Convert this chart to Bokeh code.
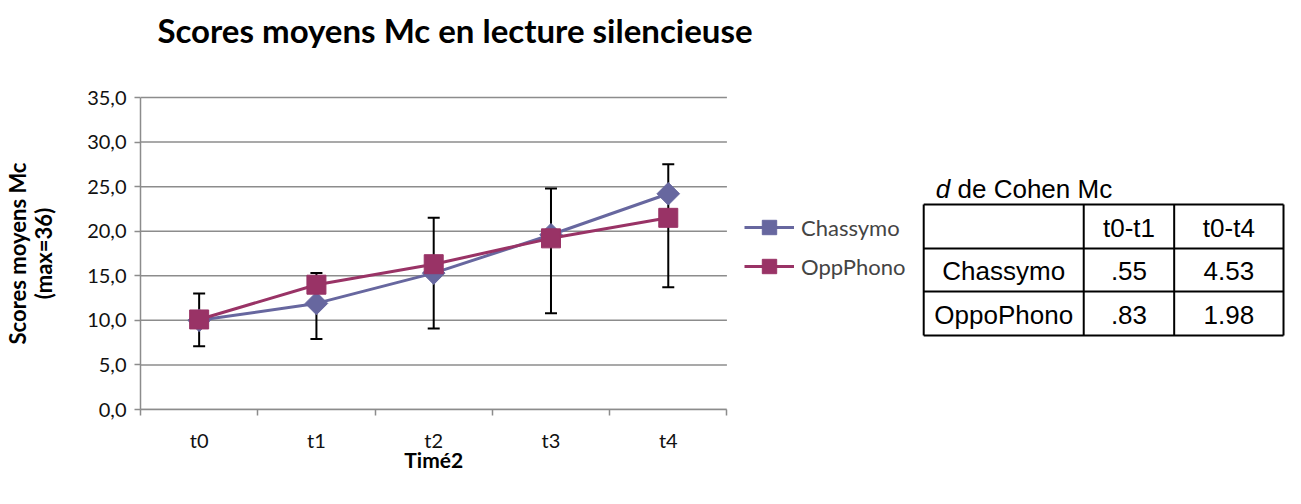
from bokeh.plotting import figure
from bokeh.models import (Range1d, LinearAxis, FixedTicker,
                          Whisker, TeeHead, ColumnDataSource, Legend, LegendItem)
from bokeh.core.properties import value
from bokeh.embed import file_html
from bokeh.resources import INLINE
import math

# ---------------- data ----------------
categories = ["t0", "t1", "t2", "t3", "t4"]
chassymo = [10.0, 11.9, 15.3, 19.6, 24.2]
oppphono = [10.1, 14.0, 16.3, 19.2, 21.5]
err_low = [7.1, 7.9, 9.1, 10.8, 13.7]
err_high = [13.0, 15.3, 21.5, 24.8, 27.5]
y_ticks = [0, 5, 10, 15, 20, 25, 30, 35]

title_text = "Scores moyens Mc en lecture silencieuse"
y_title = "Scores moyens Mc\n(max=36)"
x_title = "Timé2"
series_names = ["Chassymo", "OppPhono"]

table_title_italic = "d"
table_title_rest = "de Cohen Mc"
table_header = ["", "t0-t1", "t0-t4"]
table_groups = ["Chassymo", "OppoPhono"]
d_t0_t1 = [".55", ".83"]
d_t0_t4 = ["4.53", "1.98"]

# ---------------- layout / styles ----------------
C1 = "#67679F"
C2 = "#993366"
GRID = "#8C8C8C"
FONT = "Lato"
TFONT = "Liberation Sans"

W, H = 1285, 488
LEFT, BOTTOM = 133, 79
FRAME_W = W - LEFT            # frame runs to the right edge of the canvas
FRAME_H = H - BOTTOM          # frame runs to the top edge of the canvas
PLOT_W, PLOT_H = 590, 312     # pixel size of the actual chart area
Y_MAX = y_ticks[-1]
N = len(categories)

xpos = [i + 0.5 for i in range(N)]
src = ColumnDataSource(dict(x=xpos, ch=chassymo, op=oppphono, lo=err_low, hi=err_high))

p = figure(width=W, height=H,
           x_range=Range1d(0, N * FRAME_W / PLOT_W),
           y_range=Range1d(0, Y_MAX * FRAME_H / PLOT_H),
           output_backend="svg", toolbar_location=None, x_axis_location=None,
           min_border_left=LEFT, min_border_right=0, min_border_top=0,
           min_border_bottom=BOTTOM)
p.outline_line_color = None
p.xgrid.grid_line_color = None
p.ygrid.grid_line_color = None

# pixel ranges in page coordinates for annotation-like content
p.extra_x_ranges = {"px": Range1d(8 + LEFT, 8 + W)}
p.extra_y_ranges = {"px": Range1d(8 + FRAME_H, 8)}

# horizontal gridlines limited to the chart area
p.segment(x0=[0] * len(y_ticks), x1=[N] * len(y_ticks), y0=y_ticks, y1=y_ticks,
          line_color=GRID, line_width=1.5, level="underlay")

# title
p.text(x=[158], y=[37], text=[title_text], x_range_name="px", y_range_name="px",
       text_align="left", text_baseline="middle", text_font=value(FONT),
       text_font_style="bold", text_font_size="33px", text_color="black")

# y axis (ticks + values)
yax = p.yaxis[0]
yax.bounds = (0, Y_MAX)
yax.ticker = FixedTicker(ticks=y_ticks)
yax.major_label_overrides = {t: ("%.1f" % t).replace(".", ",") for t in y_ticks}
yax.major_tick_out = 6
yax.major_tick_in = 0
yax.minor_tick_line_color = None
yax.axis_line_color = GRID
yax.axis_line_width = 1.5
yax.major_tick_line_color = GRID
yax.major_tick_line_width = 1.5
yax.major_label_text_font = FONT
yax.major_label_text_font_size = "20px"
yax.major_label_text_color = "#111111"
yax.major_label_standoff = 8

# y title, centred on the value span 0..35
ylab = LinearAxis(ticker=FixedTicker(ticks=[Y_MAX / 2]), bounds=(0, Y_MAX),
                  major_label_overrides={Y_MAX / 2: y_title},
                  major_label_orientation="parallel",
                  axis_line_color=None, major_tick_line_color=None, minor_tick_line_color=None,
                  major_tick_out=0, major_tick_in=0, major_label_standoff=28,
                  major_label_text_font=FONT, major_label_text_font_style="bold",
                  major_label_text_font_size="22px", major_label_text_line_height=0.95,
                  major_label_text_color="black")
p.add_layout(ylab, "left")

# x axis: category labels at slot centres, tick marks at slot boundaries
edge_ticks = list(range(N + 1))
xax = LinearAxis(ticker=FixedTicker(ticks=xpos, minor_ticks=edge_ticks), bounds=(0, N),
                 major_label_overrides={x: c for x, c in zip(xpos, categories)},
                 axis_line_color=GRID, axis_line_width=1.5,
                 major_tick_line_color=None, major_tick_out=0, major_tick_in=0,
                 minor_tick_line_color=GRID, minor_tick_line_width=1.5,
                 minor_tick_out=6, minor_tick_in=0,
                 major_label_text_font=FONT, major_label_text_font_size="20px",
                 major_label_text_line_height=1.0,
                 major_label_text_color="#111111", major_label_standoff=12)
p.add_layout(xax, "below")

# x title, centred on the category span
xlab = LinearAxis(ticker=FixedTicker(ticks=[N / 2]), bounds=(0, N),
                  major_label_overrides={N / 2: x_title},
                  axis_line_color=None, major_tick_line_color=None, minor_tick_line_color=None,
                  major_tick_out=0, major_tick_in=0, major_label_standoff=-8,
                  major_label_text_font=FONT, major_label_text_font_style="bold",
                  major_label_text_font_size="21px", major_label_text_line_height=0.9,
                  major_label_text_color="black")
p.add_layout(xlab, "below")

# error bars (behind the series)
wh = Whisker(source=src, base="x", upper="hi", lower="lo", line_color="black", line_width=2,
             level="underlay",
             upper_head=TeeHead(size=12, line_color="black", line_width=2),
             lower_head=TeeHead(size=12, line_color="black", line_width=2))
p.add_layout(wh)

r1 = p.line("x", "ch", source=src, line_color=C1, line_width=3)
m1 = p.scatter("x", "ch", source=src, marker="square", angle=math.pi / 4, size=16,
               fill_color=C1, line_color=C1)
r2 = p.line("x", "op", source=src, line_color=C2, line_width=3)
m2 = p.scatter("x", "op", source=src, marker="square", size=19, fill_color=C2, line_color=C2)

legend = Legend(items=[LegendItem(label=series_names[0], renderers=[r1, m1]),
                       LegendItem(label=series_names[1], renderers=[r2, m2])],
                location=(745 - (8 + LEFT), 125), border_line_color=None,
                background_fill_alpha=0,
                glyph_width=50, glyph_height=36, spacing=3, padding=0, margin=0,
                label_text_font=FONT, label_text_font_size="22px", label_standoff=7)
p.add_layout(legend, "center")

# ---------------- table (page-pixel coordinates) ----------------
col_edges = [929, 1090, 1181, 1291]
row_edges = [212, 256, 299, 343]
hx0 = [col_edges[0]] * len(row_edges)
hx1 = [col_edges[-1]] * len(row_edges)
vy0 = [row_edges[0]] * len(col_edges)
vy1 = [row_edges[-1]] * len(col_edges)
p.segment(x0=hx0, y0=row_edges, x1=hx1, y1=row_edges, line_color="black", line_width=2,
          x_range_name="px", y_range_name="px")
p.segment(x0=col_edges, y0=vy0, x1=col_edges, y1=vy1, line_color="black", line_width=2,
          x_range_name="px", y_range_name="px")

rows = [table_header] + [[g, a, b] for g, a, b in zip(table_groups, d_t0_t1, d_t0_t4)]
tx, ty, tt = [], [], []
for i, r in enumerate(rows):
    for j, c in enumerate(r):
        tx.append((col_edges[j] + col_edges[j + 1]) / 2)
        ty.append((row_edges[i] + row_edges[i + 1]) / 2 + 1)
        tt.append(c)
p.text(x=tx, y=ty, text=tt, x_range_name="px", y_range_name="px",
       text_align="center", text_baseline="middle",
       text_font=value(TFONT), text_font_size="26px", text_color="black")
p.text(x=[941], y=[196], text=[table_title_italic], x_range_name="px", y_range_name="px",
       text_align="left", text_baseline="middle", text_font=value(TFONT),
       text_font_style="italic", text_font_size="26px", text_color="black")
p.text(x=[941 + 22], y=[196], text=[table_title_rest], x_range_name="px", y_range_name="px",
       text_align="left", text_baseline="middle", text_font=value(TFONT),
       text_font_size="26px", text_color="black")

open("out.html", "w").write(file_html(p, INLINE))
